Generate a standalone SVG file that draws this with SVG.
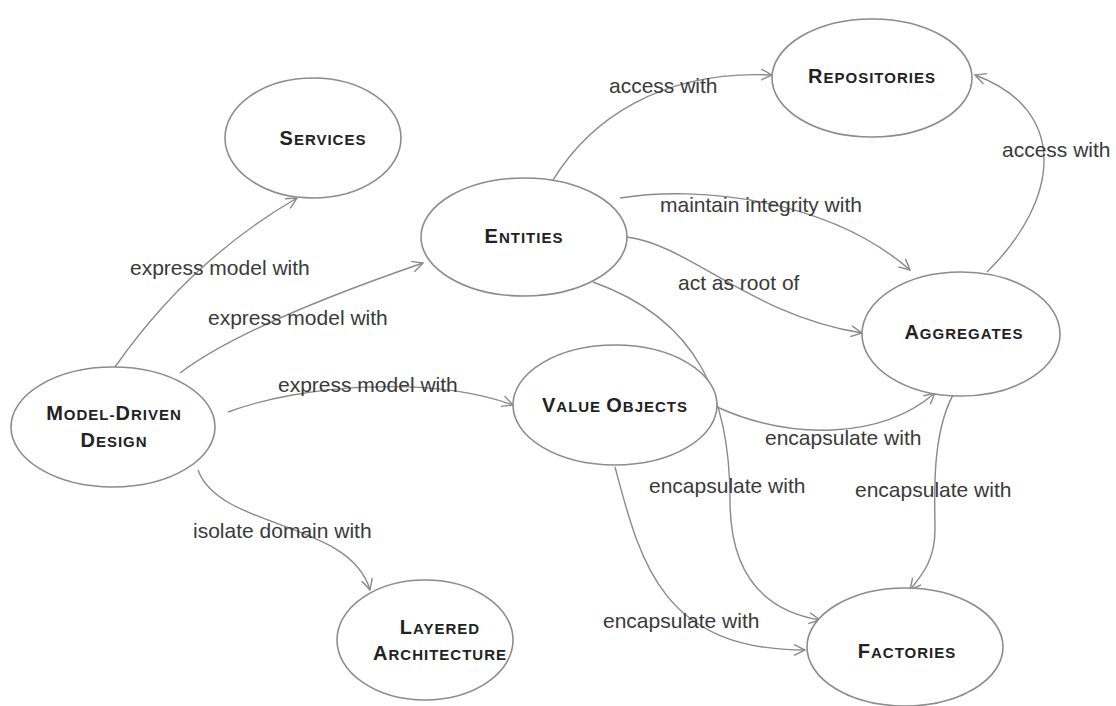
<svg xmlns="http://www.w3.org/2000/svg" width="1116" height="706" viewBox="0 0 1116 706">
  <defs>
    <marker id="open-arrow" viewBox="0 0 12 12" refX="11" refY="6" markerWidth="12" markerHeight="12" markerUnits="userSpaceOnUse" orient="auto">
      <path d="M0,0.5 L11,6 L0,11.5" fill="none" stroke="#8a8a8a" stroke-width="1.4"/>
    </marker>
  </defs>
  <style>
    .node ellipse { fill: #ffffff; stroke: #8c8c8c; stroke-width: 1.6; }
    .title { font-family: "Liberation Sans", Arial, sans-serif; font-weight: bold; fill: #222222; text-anchor: middle; letter-spacing: 1px; }
    .big { font-size: 20px; }
    .small { font-size: 15px; }
    .edge { fill: none; stroke: #8a8a8a; stroke-width: 1.4; marker-end: url(#open-arrow); }
    .label { font-family: "Liberation Sans", Arial, sans-serif; font-size: 21px; fill: #3a3a3a; }
  </style>
  <rect width="1116" height="706" fill="#ffffff"/>

  <!-- connectors -->
  <g id="connectors">
    <path class="edge" d="M115,367 Q190,260 297,198"/>
    <path class="edge" d="M180,373 C230,335 330,295 423,263"/>
    <path class="edge" d="M228,412 C300,385 430,375 513,405"/>
    <path class="edge" d="M198,470 C220,530 350,520 370,590"/>
    <path class="edge" d="M553,180 C590,120 660,70 772,75"/>
    <path class="edge" d="M987,272 C1060,200 1070,110 975,75"/>
    <path class="edge" d="M620,198 C700,185 830,200 910,270"/>
    <path class="edge" d="M627,237 C690,245 750,315 862,333"/>
    <path class="edge" d="M593,282 C700,320 730,400 730,500 C730,570 760,610 820,620"/>
    <path class="edge" d="M615,467 C640,560 660,650 805,650"/>
    <path class="edge" d="M717,407 C790,440 880,440 935,393"/>
    <path class="edge" d="M957,388 C930,430 935,500 935,530 C935,560 922,575 910,590"/>

    <text class="label" x="130" y="275">express model with</text>
    <text class="label" x="208" y="325">express model with</text>
    <text class="label" x="278" y="392">express model with</text>
    <text class="label" x="193" y="538">isolate domain with</text>
    <text class="label" x="609" y="93">access with</text>
    <text class="label" x="1002" y="157">access with</text>
    <text class="label" x="660" y="212">maintain integrity with</text>
    <text class="label" x="678" y="290">act as root of</text>
    <text class="label" x="765" y="445">encapsulate with</text>
    <text class="label" x="649" y="493">encapsulate with</text>
    <text class="label" x="855" y="497">encapsulate with</text>
    <text class="label" x="603" y="628">encapsulate with</text>
  </g>

  <!-- nodes -->
  <g id="services" class="node">
    <ellipse cx="313" cy="138" rx="88" ry="60"/>
    <text class="title" x="323" y="145"><tspan class="big">S</tspan><tspan class="small">ERVICES</tspan></text>
  </g>
  <g id="entities" class="node">
    <ellipse cx="524" cy="237" rx="103" ry="59"/>
    <text class="title" x="524" y="243"><tspan class="big">E</tspan><tspan class="small">NTITIES</tspan></text>
  </g>
  <g id="repositories" class="node">
    <ellipse cx="872" cy="78" rx="100" ry="59"/>
    <text class="title" x="872" y="83"><tspan class="big">R</tspan><tspan class="small">EPOSITORIES</tspan></text>
  </g>
  <g id="aggregates" class="node">
    <ellipse cx="961" cy="334" rx="99" ry="62"/>
    <text class="title" x="964" y="339"><tspan class="big">A</tspan><tspan class="small">GGREGATES</tspan></text>
  </g>
  <g id="model-driven-design" class="node">
    <ellipse cx="113" cy="427" rx="102" ry="60"/>
    <text class="title" x="114" y="420"><tspan class="big">M</tspan><tspan class="small">ODEL-</tspan><tspan class="big">D</tspan><tspan class="small">RIVEN</tspan></text>
    <text class="title" x="114" y="447"><tspan class="big">D</tspan><tspan class="small">ESIGN</tspan></text>
  </g>
  <g id="value-objects" class="node">
    <ellipse cx="615" cy="405" rx="102" ry="60"/>
    <text class="title" x="615" y="412"><tspan class="big">V</tspan><tspan class="small">ALUE </tspan><tspan class="big">O</tspan><tspan class="small">BJECTS</tspan></text>
  </g>
  <g id="layered-architecture" class="node">
    <ellipse cx="425" cy="640" rx="88" ry="60"/>
    <text class="title" x="440" y="634"><tspan class="big">L</tspan><tspan class="small">AYERED</tspan></text>
    <text class="title" x="440" y="660"><tspan class="big">A</tspan><tspan class="small">RCHITECTURE</tspan></text>
  </g>
  <g id="factories" class="node">
    <ellipse cx="905" cy="647" rx="98" ry="59"/>
    <text class="title" x="907" y="658"><tspan class="big">F</tspan><tspan class="small">ACTORIES</tspan></text>
  </g>
</svg>
